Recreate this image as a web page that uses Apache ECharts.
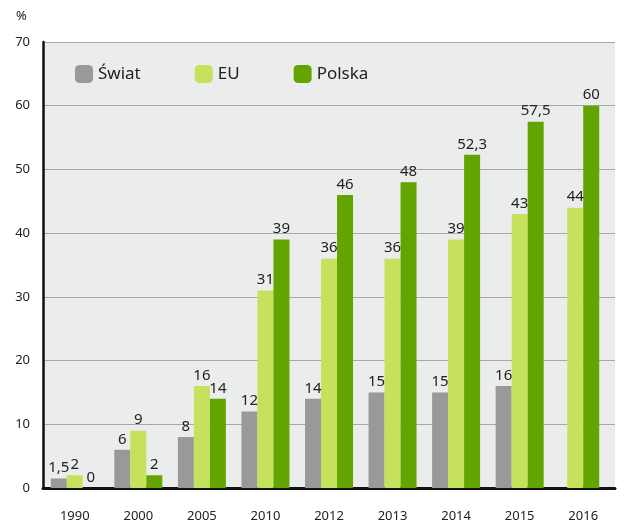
<!DOCTYPE html>
<html>
<head>
<meta charset="utf-8">
<script src="https://cdn.jsdelivr.net/npm/echarts@6/dist/echarts.min.js"></script>
<style>
  html, body { margin: 0; padding: 0; background: #fff; }
  #chart { width: 625px; height: 525px; }
</style>
</head>
<body>
<div id="chart"></div>
<script>
  // dane
  var years = ['1990', '2000', '2005', '2010', '2012', '2013', '2014', '2015', '2016'];
  var swiat = [1.5, 6, 8, 12, 14, 15, 15, 16, null];
  var eu = [2, 9, 16, 31, 36, 36, 39, 43, 44];
  var polska = [0, 2, 14, 39, 46, 48, 52.3, 57.5, 60];
  var yTicks = [0, 10, 20, 30, 40, 50, 60, 70];

  // 2016 nie ma danych dla świata - para słupków wyśrodkowana na osobnej osi
  var last = years.length - 1;
  function only(arr, keepLast) {
    return arr.map(function (v, i) { return (i === last) === keepLast ? v : null; });
  }

  var font = '"Noto Sans", sans-serif';
  var lbl = {
    show: true, position: 'top', distance: 3, color: '#222', fontSize: 15, fontFamily: font,
    formatter: function (p) { return String(p.value).replace('.', ','); }
  };
  var colors = {'Świat': '#999999', 'EU': '#c6e25c', 'Polska': '#62a500'};

  function bar(name, data, axis) {
    return {
      name: name, type: 'bar', data: data, barWidth: 16, barGap: '0%', xAxisIndex: axis,
      itemStyle: {color: colors[name]}, label: lbl
    };
  }

  var chart = echarts.init(document.getElementById('chart'));
  chart.setOption({
    animation: false,
    textStyle: {fontFamily: font},
    title: {text: '%', left: 11, top: 5, textStyle: {fontSize: 13, fontWeight: 'normal', color: '#222', fontFamily: font}},
    legend: {
      top: 60, left: 70, itemWidth: 18, itemHeight: 18, itemGap: 54,
      textStyle: {fontSize: 17, color: '#222', fontFamily: font},
      data: ['Świat', 'EU', 'Polska']
    },
    grid: {left: 43, right: 10, top: 42, bottom: 37, show: true, backgroundColor: '#ebecec', borderWidth: 0},
    xAxis: [{
      type: 'category', data: years,
      axisLine: {lineStyle: {color: '#111', width: 3}},
      axisTick: {show: false},
      axisLabel: {margin: 22, fontSize: 13, color: '#222', fontFamily: font}
    }, {
      type: 'category', data: years, position: 'bottom', show: false
    }],
    yAxis: {
      type: 'value', min: yTicks[0], max: yTicks[yTicks.length - 1], interval: 10,
      axisLine: {show: true, lineStyle: {color: '#111', width: 2.5}},
      axisTick: {show: false},
      axisLabel: {margin: 13, fontSize: 13, color: '#222', fontFamily: font},
      splitLine: {lineStyle: {color: '#a8a8a8', width: 1}}
    },
    series: [
      bar('Świat', swiat, 0),
      bar('EU', only(eu, false), 0),
      bar('Polska', only(polska, false), 0),
      bar('EU', only(eu, true), 1),
      bar('Polska', only(polska, true), 1)
    ]
  });
</script>
</body>
</html>
